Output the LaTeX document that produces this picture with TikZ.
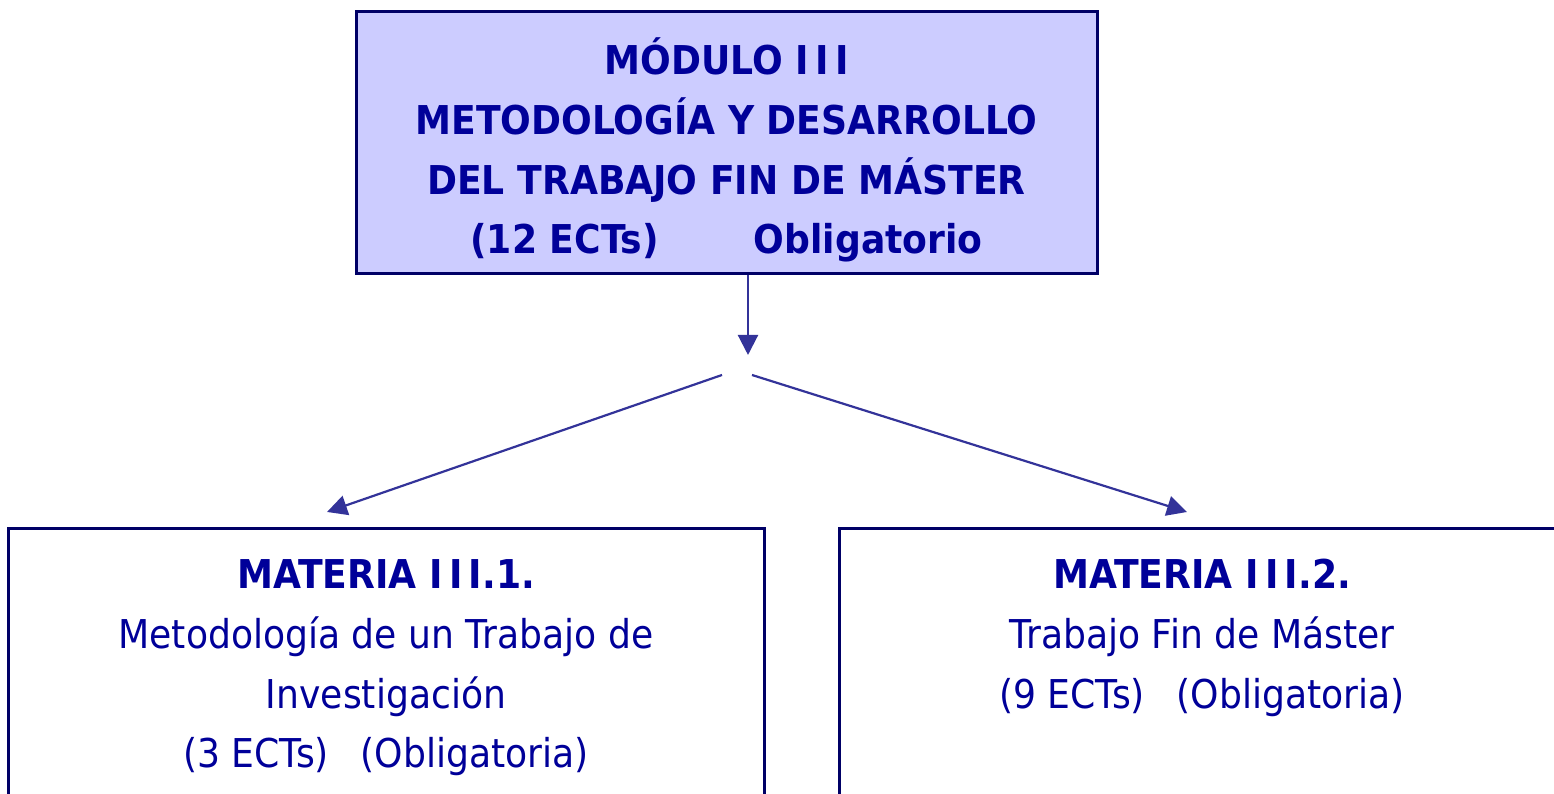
\documentclass[tikz,border=0pt]{standalone}
\usepackage{fontspec}
\setmainfont[FakeStretch=0.91]{DejaVu Sans}
\usetikzlibrary{arrows.meta}
\definecolor{modfill}{HTML}{CCCCFF}
\definecolor{modline}{HTML}{000066}
\definecolor{modtext}{HTML}{000099}
\definecolor{arrline}{HTML}{333399}
\newcommand{\tripleI}{I\kern1.8pt I\kern1.8pt I}
\tikzset{
  modbox/.style={draw=modline, fill=modfill, line width=0.3mm, minimum width=74.1mm, minimum height=26.2mm, inner sep=0pt},
  matbox/.style={draw=modline, line width=0.3mm, minimum width=75.6mm, minimum height=40mm, anchor=north, inner sep=0pt},
  boxtext/.style={text=modtext, align=center, anchor=north, font=\fontsize{11.3}{17}\selectfont, inner sep=0pt},
  flow/.style={draw=arrline, line width=0.22mm, -{Triangle[length=2mm,width=2mm]}},
}

\begin{document}
\begin{tikzpicture}[x=0.1mm, y=0.1mm]
			%%%%% START %%%%%
			\useasboundingbox (0, 0) rectangle (1554, 794);
			\clip (0, 0) rectangle (1554, 794);
			
			\node[modbox] (modulo) at (726.5, 651) {};
			\node[boxtext, font=\fontsize{11.3}{17}\selectfont\bfseries] (modtxt) at (726.5, 762)
				{\strut MÓDULO \tripleI\\ METODOLOGÍA Y DESARROLLO\\ DEL TRABAJO FIN DE MÁSTER\\ (12 ECTs)\hspace{27pt}Obligatorio};
			
			\node[matbox] (mat1) at (386, 267) {};
			\node[boxtext] (mat1txt) at (386, 248)
				{\strut\textbf{MATERIA \tripleI.1.}\\ Metodología de un Trabajo de\\ Investigación\\ (3 ECTs)\hspace{9pt}(Obligatoria)};
			
			\node[matbox] (mat2) at (1217, 267) {};
			\node[boxtext] (mat2txt) at (1202, 248)
				{\strut\textbf{MATERIA \tripleI.2.}\\ Trabajo Fin de Máster\\ (9 ECTs)\hspace{9pt}(Obligatoria)};
			
			\coordinate (fork) at (748, 439);
			\coordinate (forkL) at (722, 419);
			\coordinate (forkR) at (752, 419);
			\coordinate (tipL) at (327, 282);
			\coordinate (tipR) at (1187, 282);
			
			\draw[flow] (modulo.south -| fork) -- (fork);
			\draw[flow] (forkL) -- (tipL);
			\draw[flow] (forkR) -- (tipR);
			%%%%% END %%%%%
\end{tikzpicture}
\end{document}
